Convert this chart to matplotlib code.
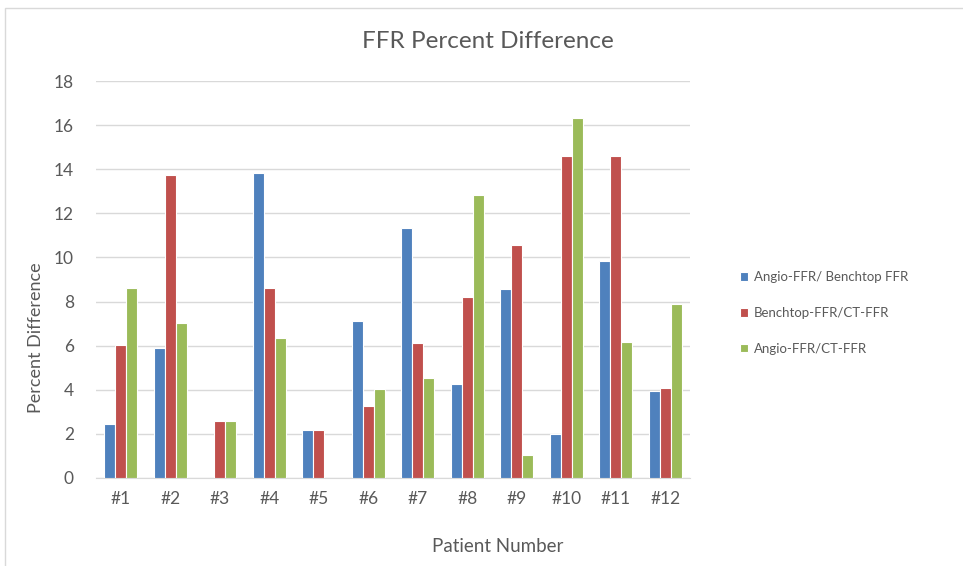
import numpy as np
import matplotlib
matplotlib.use("Agg")
import matplotlib.pyplot as plt
from matplotlib.patches import Rectangle

# FFR percent difference per patient
patients = ['#1', '#2', '#3', '#4', '#5', '#6', '#7', '#8', '#9', '#10', '#11', '#12']
angio_bench = [2.45, 5.88, 0, 13.82, 2.19, 7.13, 11.34, 4.26, 8.58, 2.01, 9.86, 3.93]
bench_ct = [6.01, 13.75, 2.6, 8.63, 2.16, 3.28, 6.10, 8.20, 10.57, 14.58, 14.59, 4.08]
angio_ct = [8.63, 7.04, 2.6, 6.37, 0, 4.05, 4.53, 12.85, 1.04, 16.33, 6.15, 7.87]

series_names = ['Angio-FFR/ Benchtop FFR', 'Benchtop-FFR/CT-FFR', 'Angio-FFR/CT-FFR']
colors = ['#4F81BD', '#C0504D', '#9BBB59']

plt.rcParams['font.family'] = ['Lato', 'DejaVu Sans']
txt = '#595959'

W, H = 963, 566
fig = plt.figure(figsize=(W / 100, H / 100), dpi=100)
ax = fig.add_axes([96 / W, 1 - 478 / H, 594 / W, 397 / H])

# light frame round the chart (right and bottom edges fall outside the picture)
fig.patches.append(Rectangle((5 / W, -0.05), 1.2, 1 - 8 / H + 0.05, transform=fig.transFigure,
                             fill=False, edgecolor='#D9D9D9', linewidth=1))

x = np.arange(len(patients))
w = 0.22
for k, vals in enumerate([angio_bench, bench_ct, angio_ct]):
    ax.bar(x + (k - 1) * w, vals, width=w, color=colors[k], edgecolor='white',
           linewidth=0.8, label=series_names[k], zorder=3)

ax.set_xlim(-0.5, len(patients) - 0.5)
ax.set_ylim(0, 18)
ax.set_yticks(range(0, 19, 2))
ax.set_xticks(x)
ax.set_xticklabels(patients)
ax.yaxis.grid(True, color='#D9D9D9', linewidth=1, zorder=0)
for s in ['top', 'right', 'left']:
    ax.spines[s].set_visible(False)
ax.spines['bottom'].set_color('#D9D9D9')
ax.tick_params(axis='both', length=0, colors=txt, labelsize=12.5, pad=9)
ax.tick_params(axis='y', pad=16)

fig.text(488 / W, 1 - 41 / H, 'FFR Percent Difference', fontsize=17.5, color=txt,
         ha='center', va='center')
fig.text(36 / W, 1 - 338 / H, 'Percent Difference', fontsize=13, color=txt,
         ha='center', va='center', rotation=90)
fig.text(498 / W, 1 - 546 / H, 'Patient Number', fontsize=13.5, color=txt,
         ha='center', va='center')

leg = ax.legend(loc='center left', bbox_to_anchor=(1.065, (478 - 313) / 397), frameon=False,
                fontsize=9.5, handlelength=0.6, handleheight=0.6, handletextpad=0.4,
                labelspacing=1.8)
for t in leg.get_texts():
    t.set_color(txt)

fig.savefig('out.png', dpi=100)
